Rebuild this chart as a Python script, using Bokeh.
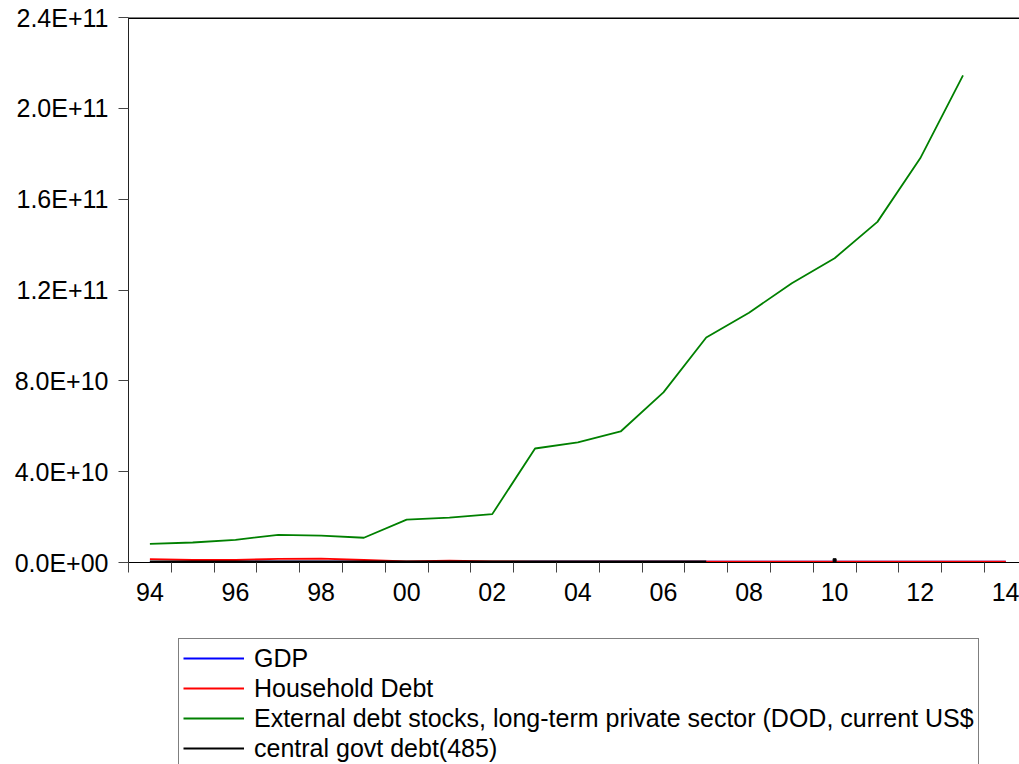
import math
from bokeh.plotting import figure
from bokeh.layouts import column
from bokeh.models import FixedTicker, Legend, LegendItem, Span, Range1d, ColumnDataSource
from bokeh.embed import file_html
from bokeh.resources import INLINE

nan = float("nan")

years = list(range(1994, 2015))
gdp = [3.0e8, 3.0e8, 3.2e8, 3.4e8, 3.4e8, 3.2e8, 3.0e8, 3.0e8, 3.1e8, 3.2e8, 3.3e8,
       3.4e8, 3.5e8, 3.6e8, 3.7e8, 3.7e8, 3.8e8, 3.9e8, 4.0e8, 4.0e8, 4.1e8]
household = [1.5e9, 1.1e9, 1.1e9, 1.6e9, 1.7e9, 1.1e9, 0.5e9, 0.8e9, 0.5e9, 0.4e9, 0.4e9,
             0.4e9, 0.4e9, 0.4e9, 0.4e9, 0.4e9, 0.4e9, 0.4e9, 0.4e9, 0.4e9, 0.4e9]
external = [8.2e9, 8.8e9, 10.0e9, 12.2e9, 11.8e9, 10.9e9, 18.9e9, 19.8e9, 21.3e9, 50.2e9, 52.9e9,
            57.7e9, 74.9e9, 99.1e9, 110.0e9, 123.0e9, 134.0e9, 150.0e9, 178.0e9, 214.5e9, nan]
central = [5.0e8, 5.0e8, 5.0e8, 5.0e8, 5.0e8, 5.0e8, 5.0e8, 5.0e8, 5.0e8, 5.0e8, 5.0e8,
           5.0e8, 5.0e8, 5.0e8, nan, nan, 1.0e9, nan, nan, nan, nan]

series_names = ["GDP", "Household Debt",
                "External debt stocks, long-term private sector (DOD, current US$",
                "central govt debt(485)"]
series_colors = ["#0000ff", "#ff0000", "#008000", "#000000"]

y_ticks = [0, 4e10, 8e10, 1.2e11, 1.6e11, 2.0e11, 2.4e11]
y_labels = ["0.0E+00", "4.0E+10", "8.0E+10", "1.2E+11", "1.6E+11", "2.0E+11", "2.4E+11"]
x_label_years = [1994, 1996, 1998, 2000, 2002, 2004, 2006, 2008, 2010, 2012, 2014]
x_labels = ["94", "96", "98", "00", "02", "04", "06", "08", "10", "12", "14"]

FONT = "Liberation Sans"
FS = "25px"

p = figure(width=1019, height=630, output_backend="svg", toolbar_location=None,
           x_range=Range1d(1993.5, 2014.32), y_range=Range1d(0, 2.4e11),
           min_border_left=128, min_border_right=0, min_border_top=17, min_border_bottom=68)
p.outline_line_color = None
p.xgrid.visible = False
p.ygrid.visible = False
p.background_fill_color = "white"
p.border_fill_color = "white"

# y axis
p.yaxis.ticker = FixedTicker(ticks=y_ticks)
p.yaxis.major_label_overrides = {t: l for t, l in zip(y_ticks, y_labels)}
p.yaxis.major_label_text_font = FONT
p.yaxis.major_label_text_font_size = FS
p.yaxis.major_label_text_color = "black"
p.yaxis.major_tick_out = 10
p.yaxis.major_tick_in = 0
p.yaxis.minor_tick_out = 0
p.yaxis.minor_tick_in = 0
p.yaxis.major_label_standoff = 10
p.yaxis.axis_line_color = "#222222"
p.yaxis.major_tick_line_color = "#444444"

# x axis: labels at year centres, ticks at year boundaries
bounds = [y - 0.5 for y in years] + [years[-1] + 0.5]
p.xaxis.ticker = FixedTicker(ticks=x_label_years, minor_ticks=bounds)
p.xaxis.major_label_overrides = {t: l for t, l in zip(x_label_years, x_labels)}
p.xaxis.major_label_text_font = FONT
p.xaxis.major_label_text_font_size = FS
p.xaxis.major_label_text_color = "black"
p.xaxis.major_tick_out = 0
p.xaxis.major_tick_in = 0
p.xaxis.minor_tick_out = 10
p.xaxis.minor_tick_in = 0
p.xaxis.minor_tick_line_color = "#444444"
p.xaxis.major_label_standoff = 10
p.xaxis.axis_line_color = "black"

# top frame line
p.add_layout(Span(location=2.4e11, dimension="width", line_color="black", line_width=3))

# legend figure (series drawn out of its view so only the legend shows)
p2 = figure(width=1019, height=134, output_backend="svg", toolbar_location=None,
            x_range=Range1d(0, 1), y_range=Range1d(0, 1),
            x_axis_location=None, y_axis_location=None,
            min_border_left=0, min_border_right=0, min_border_top=0, min_border_bottom=0)
p2.outline_line_color = None
p2.xgrid.visible = False
p2.ygrid.visible = False

items = []
for name, vals, col in zip(series_names, [gdp, household, external, central], series_colors):
    src = ColumnDataSource(dict(x=years, y=vals))
    p.line("x", "y", source=src, line_color=col, line_width=1.8)
    r2 = p2.line("x", "y", source=src, line_color=col, line_width=1.8)
    # isolated points (no neighbours) drawn as dots
    iso_x, iso_y = [], []
    for i, v in enumerate(vals):
        if math.isnan(v):
            continue
        prev_nan = i == 0 or math.isnan(vals[i - 1])
        next_nan = i == len(vals) - 1 or math.isnan(vals[i + 1])
        if prev_nan and next_nan:
            iso_x.append(years[i])
            iso_y.append(v)
    if iso_x:
        p.scatter(iso_x, iso_y, marker="square", size=3, color=col)
    items.append(LegendItem(label=name, renderers=[r2]))

legend = Legend(items=items, location=(50, -4), orientation="vertical",
                label_text_font=FONT, label_text_font_size=FS,
                label_text_color="black",
                glyph_width=61, glyph_height=30, label_height=30, label_standoff=10,
                spacing=0, padding=4, margin=0,
                border_line_color="black", border_line_width=1,
                background_fill_color="white", background_fill_alpha=1.0)
p2.add_layout(legend, "center")

layout = column(p, p2, spacing=0)
open("out.html", "w").write(file_html(layout, INLINE))
